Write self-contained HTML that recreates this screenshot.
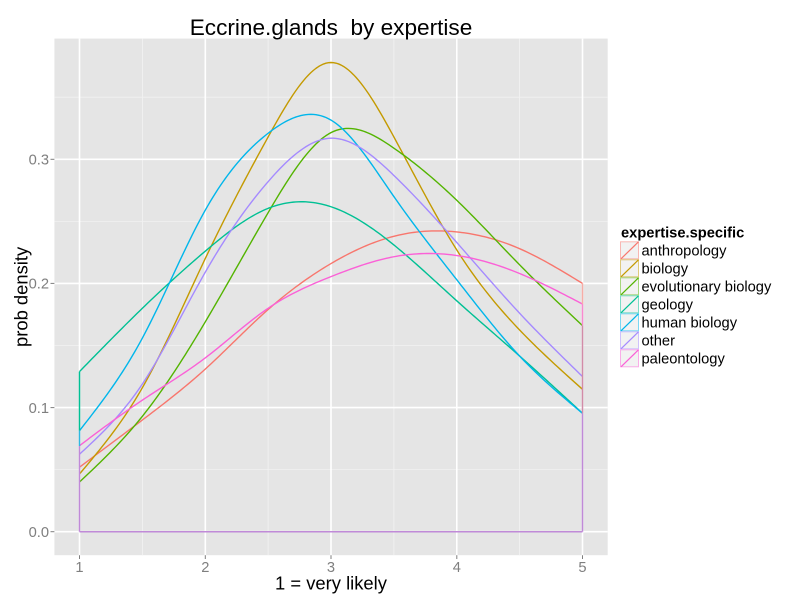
<!DOCTYPE html>
<html><head><meta charset="utf-8"><style>
html,body{margin:0;padding:0;background:#fff;}
svg{display:block;font-family:"Liberation Sans",Arial,sans-serif;}
text{white-space:pre;}
</style></head><body>
<svg id="s" width="800" height="600" viewBox="0 0 800 600" xmlns="http://www.w3.org/2000/svg">
<rect width="800" height="600" fill="#fff"/>
<rect x="54.4" y="38.6" width="553.3" height="516.6" fill="#E5E5E5"/>
<g stroke="#F2F2F2" stroke-width="0.8">
<line x1="142.4" x2="142.4" y1="38.6" y2="555.2"/>
<line x1="268.1" x2="268.1" y1="38.6" y2="555.2"/>
<line x1="393.9" x2="393.9" y1="38.6" y2="555.2"/>
<line x1="519.6" x2="519.6" y1="38.6" y2="555.2"/>
<line x1="54.4" x2="607.7" y1="469.6" y2="469.6"/>
<line x1="54.4" x2="607.7" y1="345.5" y2="345.5"/>
<line x1="54.4" x2="607.7" y1="221.4" y2="221.4"/>
<line x1="54.4" x2="607.7" y1="97.2" y2="97.2"/>
</g>
<g stroke="#fff" stroke-width="1.6">
<line x1="79.5" x2="79.5" y1="38.6" y2="555.2"/>
<line x1="205.3" x2="205.3" y1="38.6" y2="555.2"/>
<line x1="331" x2="331" y1="38.6" y2="555.2"/>
<line x1="456.8" x2="456.8" y1="38.6" y2="555.2"/>
<line x1="582.5" x2="582.5" y1="38.6" y2="555.2"/>
<line x1="54.4" x2="607.7" y1="531.7" y2="531.7"/>
<line x1="54.4" x2="607.7" y1="407.6" y2="407.6"/>
<line x1="54.4" x2="607.7" y1="283.4" y2="283.4"/>
<line x1="54.4" x2="607.7" y1="159.3" y2="159.3"/>
</g>
<g id="curves" fill="none" stroke-width="1.4" stroke-linejoin="round"></g>
<g fill="none" stroke-width="1.5">
<line x1="79.5" x2="582.5" y1="531.7" y2="531.7" stroke="#C08AD8"/>
<line x1="79.5" x2="79.5" y1="371.6" y2="430.7" stroke="#00C094"/>
<line x1="79.5" x2="79.5" y1="430.7" y2="446" stroke="#2FB8E0"/>
<line x1="79.5" x2="79.5" y1="446" y2="531.7" stroke="#C08AD8"/>
<line x1="582.5" x2="582.5" y1="283.4" y2="304" stroke="#F6ADA6"/>
<line x1="582.5" x2="582.5" y1="304" y2="325.6" stroke="#F98ACF"/>
<line x1="582.5" x2="582.5" y1="325.6" y2="413.3" stroke="#D28CA8"/>
<line x1="582.5" x2="582.5" y1="413.3" y2="531.7" stroke="#C08AD8"/>
</g>
<g stroke="#7F7F7F" stroke-width="1">
<line x1="50.5" x2="54.4" y1="531.7" y2="531.7"/>
<line x1="50.5" x2="54.4" y1="407.6" y2="407.6"/>
<line x1="50.5" x2="54.4" y1="283.4" y2="283.4"/>
<line x1="50.5" x2="54.4" y1="159.3" y2="159.3"/>
<line x1="79.5" x2="79.5" y1="555.2" y2="559"/>
<line x1="205.3" x2="205.3" y1="555.2" y2="559"/>
<line x1="331" x2="331" y1="555.2" y2="559"/>
<line x1="456.8" x2="456.8" y1="555.2" y2="559"/>
<line x1="582.5" x2="582.5" y1="555.2" y2="559"/>
</g>
<g fill="#7F7F7F" font-size="14.7" text-anchor="end">
<text x="49" y="537">0.0</text>
<text x="49" y="412.9">0.1</text>
<text x="49" y="288.7">0.2</text>
<text x="49" y="164.6">0.3</text>
</g>
<g fill="#7F7F7F" font-size="14.7" text-anchor="middle">
<text x="79.5" y="572">1</text>
<text x="205.3" y="572">2</text>
<text x="331" y="572">3</text>
<text x="456.8" y="572">4</text>
<text x="582.5" y="572">5</text>
</g>
<text x="331" y="589.5" font-size="18.4" text-anchor="middle" fill="#000">1 = very likely</text>
<text transform="translate(27.5,296.9) rotate(-90)" font-size="18.4" text-anchor="middle" fill="#000">prob density</text>
<text x="331" y="35" font-size="22.6" text-anchor="middle" fill="#000">Eccrine.glands  by expertise</text>
<text x="621" y="237.5" font-size="14.7" font-weight="bold" fill="#000">expertise.specific</text>
<g id="legend"></g>
</svg>
<script>
(function(){
var NS="http://www.w3.org/2000/svg";
function X(v){return 79.5+(v-1)*125.75;}
function Y(d){return 531.7-d*1241.3;}
var series=[
["anthropology","#F8766D",[0.052,0.090,0.131,0.179,0.216,0.238,0.2415,0.228,0.200]],
["biology","#C49A00",[0.0465,0.116,0.220,0.318,0.378,0.318,0.227,0.1625,0.1147]],
["evolutionary biology","#53B400",[0.040,0.093,0.169,0.257,0.3215,0.309,0.267,0.215,0.166]],
["geology","#00C094",[0.129,0.180,0.226,0.2605,0.2618,0.231,0.186,0.1415,0.0954]],
["human biology","#00B6EB",[0.0814,0.156,0.259,0.321,0.3316,0.270,0.203,0.1415,0.0954]],
["other","#A58AFF",[0.0624,0.119,0.209,0.282,0.317,0.287,0.233,0.176,0.125]],
["paleontology","#FB61D7",[0.0693,0.106,0.140,0.180,0.2055,0.2215,0.2225,0.208,0.1834]]
];
function spline(y){
 var n=y.length-1,h=0.5,M=new Array(n+1).fill(0);
 var a=[],b=[],c=[],d=[];
 for(var i=1;i<n;i++){a.push(1);b.push(4);c.push(1);d.push(6/(h*h)*(y[i+1]-2*y[i]+y[i-1]));}
 var m=d.length;
 for(var i=1;i<m;i++){var w=a[i]/b[i-1];b[i]-=w*c[i-1];d[i]-=w*d[i-1];}
 var sol=new Array(m);sol[m-1]=d[m-1]/b[m-1];
 for(var i=m-2;i>=0;i--){sol[i]=(d[i]-c[i]*sol[i+1])/b[i];}
 for(var i=0;i<m;i++)M[i+1]=sol[i];
 return function(x){
  var i=Math.min(n-1,Math.floor((x-1)/h));
  var x0=1+i*h,x1=x0+h;
  return M[i]*Math.pow(x1-x,3)/(6*h)+M[i+1]*Math.pow(x-x0,3)/(6*h)+(y[i]/h-M[i]*h/6)*(x1-x)+(y[i+1]/h-M[i+1]*h/6)*(x-x0);
 };
}
var g=document.getElementById("curves");
series.forEach(function(s){
 var f=spline(s[2]);var pts=[];
 for(var k=0;k<=200;k++){var v=1+4*k/200;pts.push(X(v).toFixed(2)+","+Y(f(v)).toFixed(2));}
 var p=document.createElementNS(NS,"polyline");
 p.setAttribute("points",pts.join(" "));p.setAttribute("stroke",s[1]);
 g.appendChild(p);
});
var L=document.getElementById("legend");
series.forEach(function(s,i){
 var y0=241.3+i*18;
 var r=document.createElementNS(NS,"rect");
 r.setAttribute("x",620.5);r.setAttribute("y",y0+0.5);r.setAttribute("width",18);r.setAttribute("height",17);
 r.setAttribute("fill","#F2F2F2");r.setAttribute("stroke",s[1]);r.setAttribute("stroke-opacity","0.5");r.setAttribute("stroke-width","1");
 L.appendChild(r);
 var l=document.createElementNS(NS,"line");
 l.setAttribute("x1",621);l.setAttribute("y1",y0+17.5);l.setAttribute("x2",638.5);l.setAttribute("y2",y0+0.5);
 l.setAttribute("stroke",s[1]);l.setAttribute("stroke-width","1.2");
 L.appendChild(l);
 var t=document.createElementNS(NS,"text");
 t.setAttribute("x",641.5);t.setAttribute("y",y0+14.2);t.setAttribute("font-size","14.7");t.setAttribute("fill","#000");
 t.textContent=s[0];L.appendChild(t);
});
})();
</script>
</body></html>
